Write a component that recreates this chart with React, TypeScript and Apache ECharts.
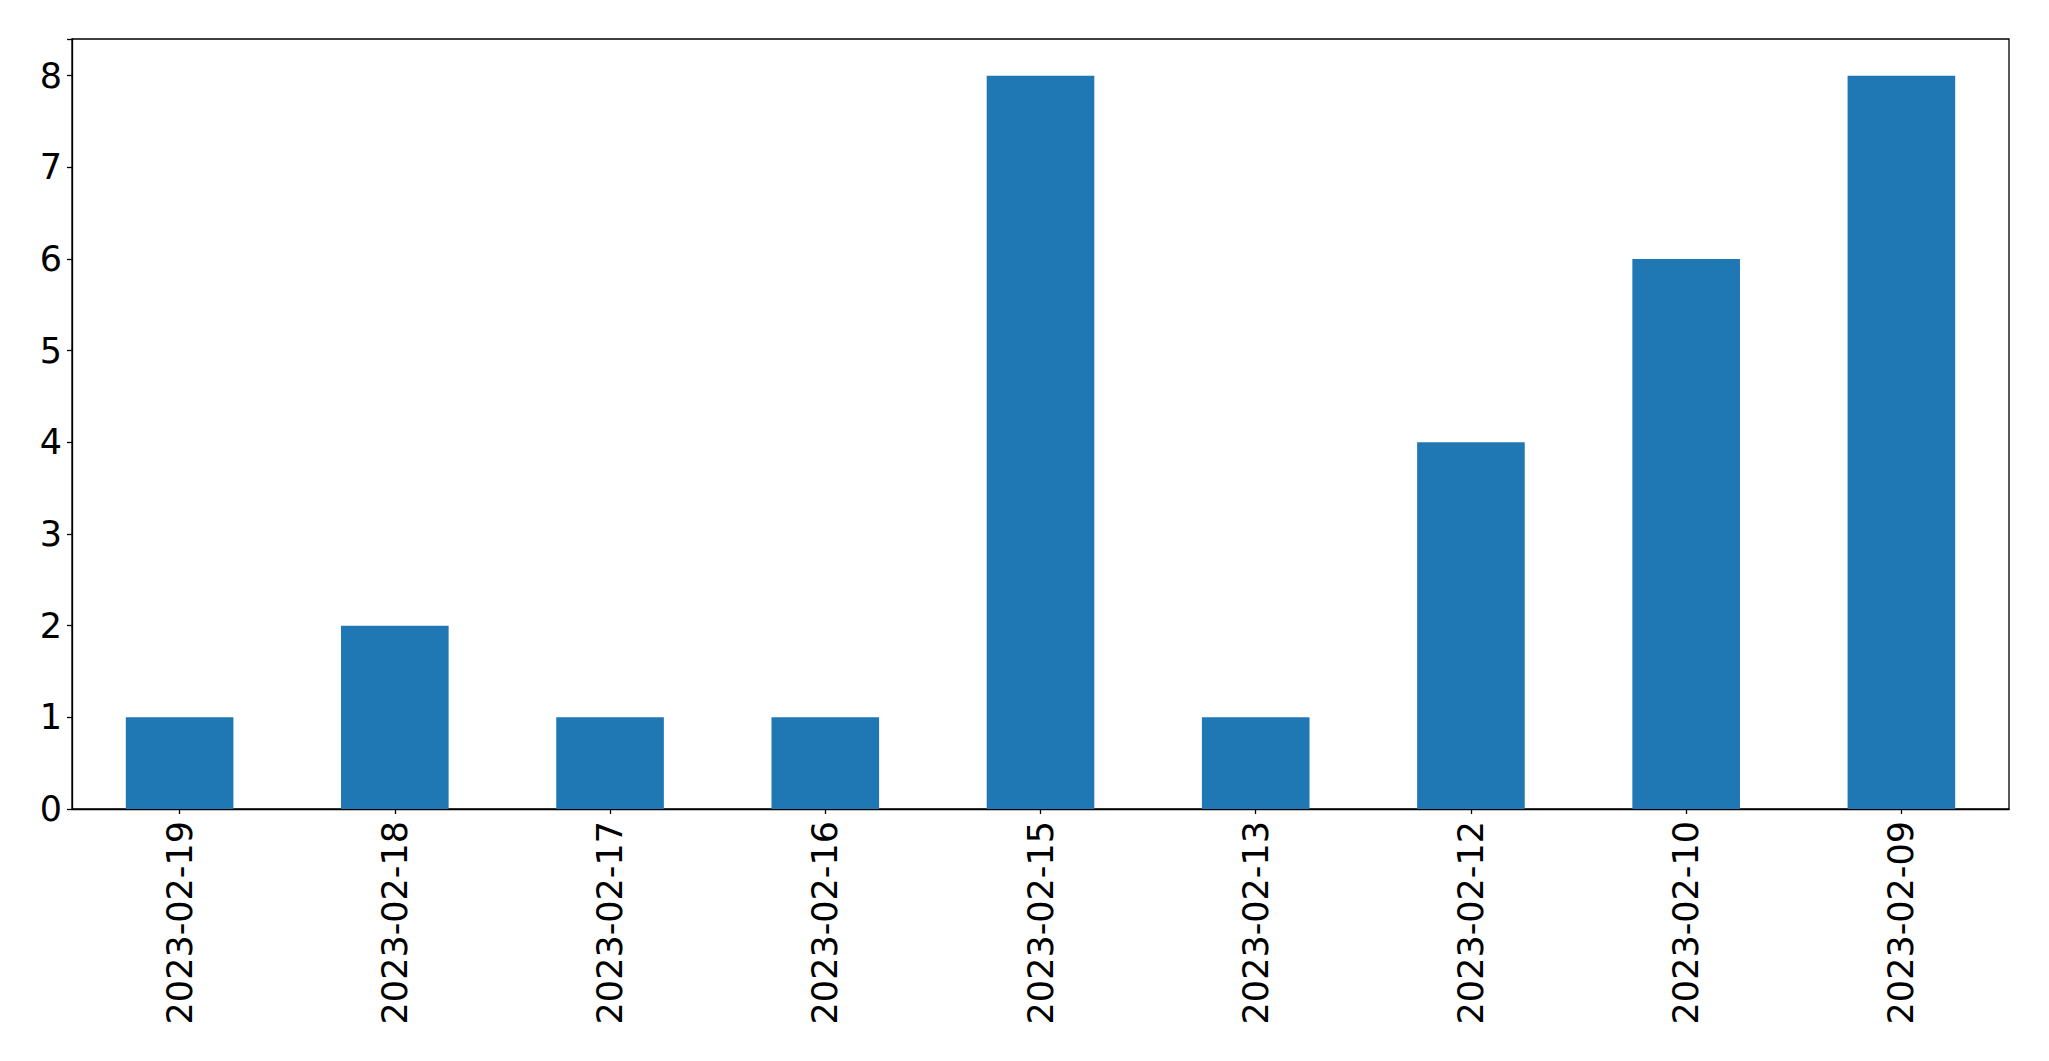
import React, { useEffect, useRef } from "react";
import * as echarts from "echarts";

const categories = [
  "2023-02-19",
  "2023-02-18",
  "2023-02-17",
  "2023-02-16",
  "2023-02-15",
  "2023-02-13",
  "2023-02-12",
  "2023-02-10",
  "2023-02-09",
];
const counts = [1, 2, 1, 1, 8, 1, 4, 6, 8];
const yTicks = [0, 1, 2, 3, 4, 5, 6, 7, 8];

export default function App() {
  const ref = useRef<HTMLDivElement>(null);
  useEffect(() => {
    if (!ref.current) return;
    const chart = echarts.init(ref.current, null, { renderer: "svg" });
    const font = "DejaVu Sans";
    chart.setOption({
      animation: false,
      backgroundColor: "#ffffff",
      grid: {
        left: 72,
        right: 40,
        top: 39,
        bottom: 252,
        show: true,
        borderColor: "#000000",
        borderWidth: 1.3,
        backgroundColor: "transparent",
      },
      xAxis: {
        type: "category",
        data: categories,
        axisLine: { show: true, lineStyle: { color: "#000", width: 1.3 } },
        axisTick: { show: true, alignWithLabel: true, length: 5, lineStyle: { color: "#000", width: 1.3 } },
        axisLabel: {
          rotate: 90,
          fontSize: 35,
          fontFamily: font,
          color: "#000",
          margin: 12,
          interval: 0,
        },
        splitLine: { show: false },
      },
      yAxis: {
        type: "value",
        min: 0,
        max: 8.4,
        interval: 1,
        axisLine: { show: true, lineStyle: { color: "#000", width: 1.3 } },
        axisTick: { show: true, length: 5, lineStyle: { color: "#000", width: 1.3 } },
        axisLabel: {
          fontSize: 35,
          fontFamily: font,
          color: "#000",
          margin: 10,
          formatter: (v: number) => (yTicks.includes(v) ? String(v) : ""),
        },
        splitLine: { show: false },
      },
      series: [
        {
          type: "bar",
          data: counts,
          barWidth: "50%",
          itemStyle: { color: "#1f77b4" },
        },
      ],
    });
    return () => chart.dispose();
  }, []);
  return (
    <div
      ref={ref}
      style={{ position: "fixed", left: 0, top: 0, width: 2049, height: 1061 }}
    />
  );
}
